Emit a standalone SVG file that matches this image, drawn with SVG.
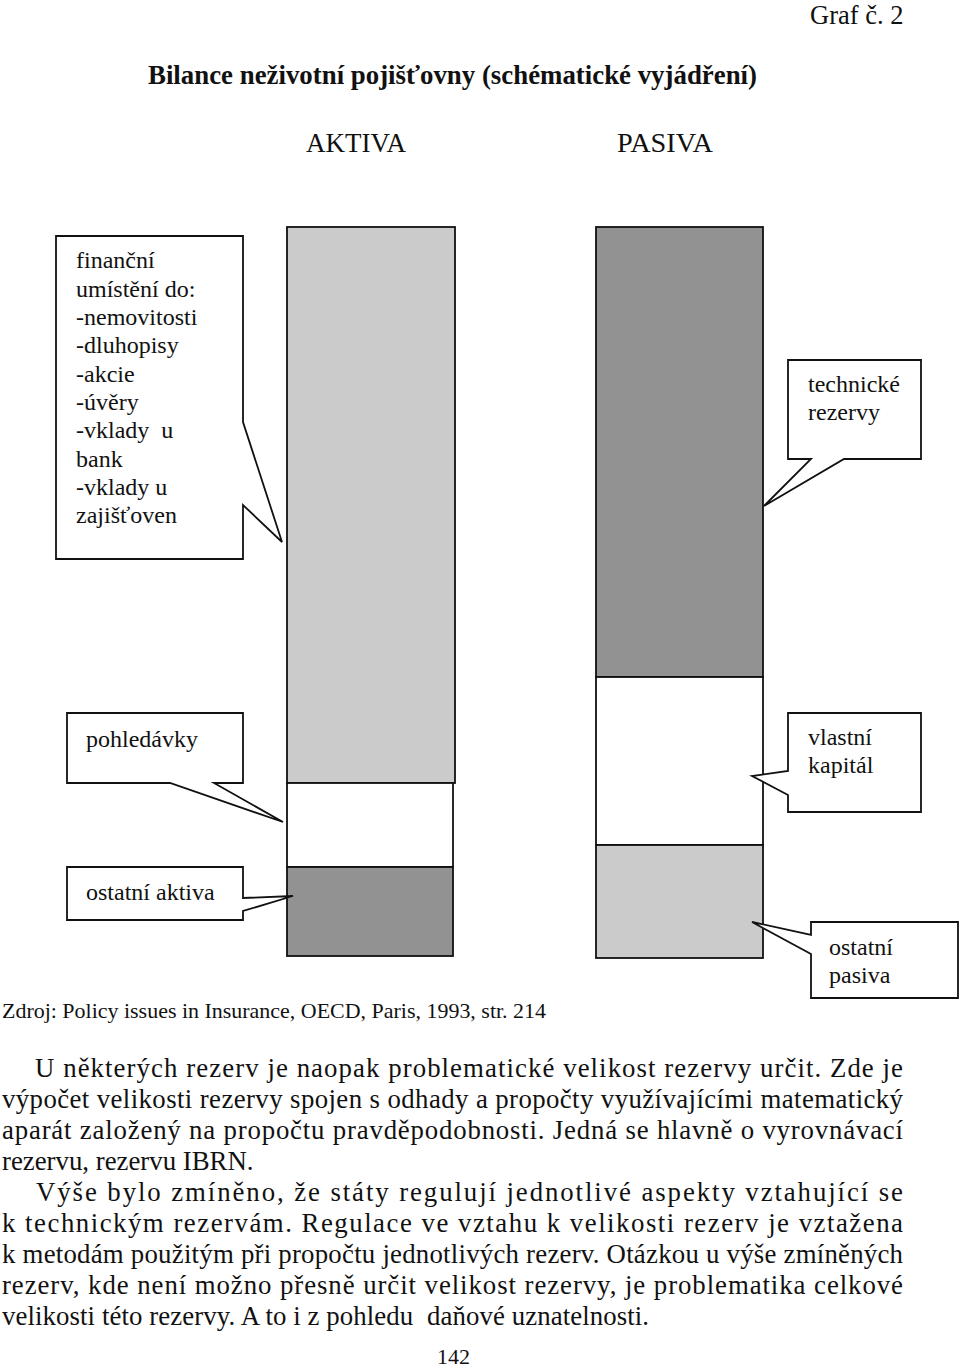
<svg xmlns="http://www.w3.org/2000/svg" width="960" height="1369" viewBox="0 0 960 1369">
<style>
text{font-family:"Liberation Serif","Times New Roman",serif;fill:#111;white-space:pre}
.hd{font-size:26.5px}
.ti{font-size:27px;font-weight:bold}
.co{font-size:24px}
.bd{font-size:26.8px}
.sm{font-size:22px}
.bar{stroke:#111;stroke-width:1.8}
.lg{fill:#cbcbcb}
.dg{fill:#929292}
.wh{fill:#fff}
.call{fill:#fff;stroke:#111;stroke-width:1.8;stroke-linejoin:miter}
</style>
<rect width="960" height="1369" fill="#fff"/>
<text class="hd" x="810" y="24">Graf č. 2</text>
<text class="ti" x="148" y="84" textLength="609" lengthAdjust="spacingAndGlyphs">Bilance neživotní pojišťovny (schématické vyjádření)</text>
<text class="hd" x="306" y="152" textLength="100" lengthAdjust="spacingAndGlyphs">AKTIVA</text>
<text class="hd" x="617" y="152" textLength="96" lengthAdjust="spacingAndGlyphs">PASIVA</text>

<g id="aktiva-bar">
<rect class="bar lg" x="287" y="227" width="168" height="556"/>
<rect class="bar wh" x="287" y="783" width="166" height="84"/>
<rect class="bar dg" x="287" y="867" width="166" height="89"/>
</g>
<g id="pasiva-bar">
<rect class="bar dg" x="596" y="227" width="167" height="450"/>
<rect class="bar wh" x="596" y="677" width="167" height="168"/>
<rect class="bar lg" x="596" y="845" width="167" height="113"/>
</g>

<g id="connectors"></g>

<g id="callout-financni">
<path class="call" d="M56,236 H243 V422 L282,542 L243,505 V559 H56 Z"/>
<text class="co" x="76" y="268">finanční</text>
<text class="co" x="76" y="296.5">umístění do:</text>
<text class="co" x="76" y="325">-nemovitosti</text>
<text class="co" x="76" y="353.3">-dluhopisy</text>
<text class="co" x="76" y="381.6">-akcie</text>
<text class="co" x="76" y="410">-úvěry</text>
<text class="co" x="76" y="438.3">-vklady  u</text>
<text class="co" x="76" y="466.6">bank</text>
<text class="co" x="76" y="495">-vklady u</text>
<text class="co" x="76" y="523.3">zajišťoven</text>
</g>
<g id="callout-pohledavky">
<path class="call" d="M67,713 H243 V783 H214 L283,822 L170,783 H67 Z"/>
<text class="co" x="86" y="746.5">pohledávky</text>
</g>
<g id="callout-ostatni-aktiva">
<path class="call" d="M67,867 H243 V898 L293,896 L243,911 V920 H67 Z"/>
<text class="co" x="86" y="900">ostatní aktiva</text>
</g>
<g id="callout-technicke">
<path class="call" d="M788,360 H921 V459 H844 L764,506 L811,459 H788 Z"/>
<text class="co" x="808" y="391.5">technické</text>
<text class="co" x="808" y="420">rezervy</text>
</g>
<g id="callout-vlastni">
<path class="call" d="M788,713 H921 V812 H788 V795 L752,776 L788,771 Z"/>
<text class="co" x="808" y="745">vlastní</text>
<text class="co" x="808" y="773.3">kapitál</text>
</g>
<g id="callout-ostatni-pasiva">
<path class="call" d="M811,922 H958 V998 H811 V954 L752,922 L811,935 Z"/>
<text class="co" x="829" y="955">ostatní</text>
<text class="co" x="829" y="982.7">pasiva</text>
</g>

<text class="sm" x="2" y="1018" textLength="544" lengthAdjust="spacingAndGlyphs">Zdroj: Policy issues in Insurance, OECD, Paris, 1993, str. 214</text>

<g id="body-text">
<text class="bd" x="35" y="1077" textLength="868" lengthAdjust="spacing">U některých rezerv je naopak problematické velikost rezervy určit. Zde je</text>
<text class="bd" x="2" y="1108" textLength="901" lengthAdjust="spacing">výpočet velikosti rezervy spojen s odhady a propočty využívajícími matematický</text>
<text class="bd" x="2" y="1139" textLength="901" lengthAdjust="spacing">aparát založený na propočtu pravděpodobnosti. Jedná se hlavně o vyrovnávací</text>
<text class="bd" x="2" y="1170">rezervu, rezervu IBRN.</text>
<text class="bd" x="36" y="1201" textLength="867" lengthAdjust="spacing">Výše bylo zmíněno, že státy regulují jednotlivé aspekty vztahující se</text>
<text class="bd" x="2" y="1232" textLength="901" lengthAdjust="spacing">k technickým rezervám. Regulace ve vztahu k velikosti rezerv je vztažena</text>
<text class="bd" x="2" y="1263" textLength="901" lengthAdjust="spacing">k metodám použitým při propočtu jednotlivých rezerv. Otázkou u výše zmíněných</text>
<text class="bd" x="2" y="1294" textLength="901" lengthAdjust="spacing">rezerv, kde není možno přesně určit velikost rezervy, je problematika celkové</text>
<text class="bd" x="2" y="1325" textLength="647" lengthAdjust="spacing">velikosti této rezervy. A to i z pohledu  daňové uznatelnosti.</text>
</g>
<text class="sm" x="437" y="1364">142</text>
</svg>
